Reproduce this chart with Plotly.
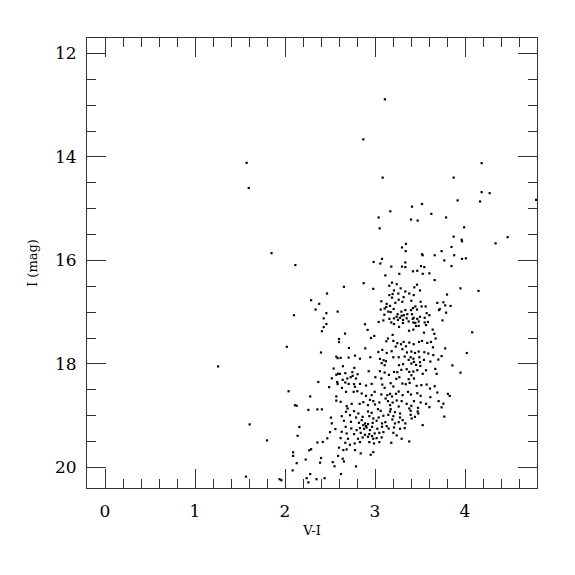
import plotly.graph_objects as go

# V-I colour and I magnitude of stars
vi_sparse = [1.574, 1.597, 1.85, 1.256, 1.607, 1.80, 1.567, 1.94, 1.96,
             3.11, 2.87, 4.185, 3.085, 3.874, 4.185, 4.274, 4.79, 3.918, 4.167, 3.522, 3.411,
             3.17, 3.626, 3.04, 3.79, 3.40, 3.474, 3.052, 3.99, 3.874, 3.963, 4.474,
             3.967, 4.34, 3.85, 3.74, 3.88, 3.967, 4.01, 3.77, 3.85, 3.95, 4.15, 3.80, 3.76,
             3.78, 3.84, 3.72, 3.79, 3.75, 4.08, 3.78, 4.02, 3.74, 3.86, 3.95, 3.81, 3.83,
             3.76, 3.74, 3.77]
i_sparse = [14.113, 14.60, 15.86, 18.05, 19.17, 19.48, 20.18, 20.23, 20.25,
            12.885, 13.66, 14.12, 14.40, 14.40, 14.68, 14.70, 14.83, 14.84, 14.86, 14.91, 14.96,
            15.05, 15.10, 15.17, 15.17, 15.21, 15.23, 15.38, 15.36, 15.54, 15.60, 15.55,
            15.63, 15.67, 15.74, 15.82, 15.90, 15.97, 15.96, 16.00, 16.11, 16.54, 16.59, 16.66, 16.81,
            16.87, 16.88, 16.94, 17.01, 17.16, 17.39, 17.70, 17.79, 17.85, 18.03, 18.17, 18.58, 18.62,
            18.77, 18.84, 19.02]

vi_blue = [2.115, 2.467, 2.29, 2.38, 2.585, 2.34, 2.46, 2.10, 2.43, 2.46,
           2.43, 2.41, 2.60, 2.60, 2.02, 2.40, 2.57, 2.585, 2.54, 2.59, 2.57, 2.52, 2.58, 2.585,
           2.37, 2.49, 2.04, 2.28, 2.57, 2.57, 2.11, 2.13, 2.36, 2.41, 2.26,
           2.51, 2.52, 2.16, 2.56, 2.50, 2.14, 2.47, 2.42, 2.36, 2.60, 2.29, 2.27, 2.09, 2.09,
           2.59, 2.40, 2.23, 2.53, 2.39, 2.13, 2.55, 2.085, 2.28, 2.24, 2.35, 2.44, 2.26]
i_blue = [16.09, 16.64, 16.77, 16.84, 16.99, 16.95, 17.02, 17.06, 17.12, 17.23,
          17.29, 17.37, 17.52, 17.58, 17.67, 17.78, 17.86, 17.89, 18.09, 18.19, 18.21, 18.28, 18.35, 18.39,
          18.35, 18.45, 18.53, 18.63, 18.63, 18.71, 18.80, 18.81, 18.88, 18.88, 18.89,
          19.04, 19.15, 19.22, 19.26, 19.32, 19.39, 19.44, 19.51, 19.52, 19.62, 19.65, 19.67, 19.71, 19.78,
          19.78, 19.82, 19.85, 19.90, 19.91, 19.92, 19.98, 20.06, 20.13, 20.21, 20.23, 20.21, 20.29]

vi_upper = [3.344, 3.300, 3.341, 3.522, 3.530, 3.663, 3.078, 2.985, 3.059, 3.337, 3.181, 3.300, 3.337,
            3.511, 3.548, 3.422, 3.470, 3.604, 3.530, 3.270, 3.115, 3.663, 2.874, 2.655, 2.981, 3.189,
            3.241, 3.159, 3.467, 3.437, 3.211, 3.285, 3.337, 3.381, 3.500, 3.159, 3.196, 3.259, 3.430,
            3.318, 3.189, 3.070, 3.130, 3.263, 3.304, 3.226, 3.404, 3.507, 3.518, 3.692, 3.563, 3.448,
            3.126, 3.167, 3.207, 3.107, 3.063, 3.422, 3.467, 3.337, 3.400, 3.148, 3.174, 3.293, 3.411,
            3.574, 3.252, 3.296, 3.322, 3.359, 3.711, 3.104, 3.241, 3.278, 3.211, 3.352, 3.430, 3.500,
            3.419, 3.470, 3.552, 3.604, 3.255, 3.311, 3.159, 3.041, 3.093, 3.374, 3.426, 3.485, 3.552,
            3.589, 2.889, 3.181, 3.311, 3.448, 3.567, 3.211]
i_upper = [15.68, 15.75, 15.82, 15.88, 15.90, 15.90, 15.97, 16.03, 16.06, 16.04, 16.12, 16.12, 16.13,
           16.11, 16.13, 16.21, 16.20, 16.25, 16.26, 16.26, 16.29, 16.38, 16.44, 16.51, 16.55, 16.43,
           16.46, 16.49, 16.47, 16.52, 16.58, 16.54, 16.60, 16.64, 16.58, 16.67, 16.65, 16.64, 16.67,
           16.71, 16.72, 16.79, 16.84, 16.76, 16.80, 16.82, 16.78, 16.80, 16.89, 16.82, 16.89, 16.89,
           16.90, 16.88, 16.94, 16.93, 16.95, 16.92, 16.95, 16.96, 16.96, 16.99, 17.00, 16.99, 17.04,
           17.02, 17.04, 17.07, 17.06, 17.04, 16.96, 17.05, 17.09, 17.11, 17.12, 17.12, 17.11, 17.09,
           17.13, 17.13, 17.11, 17.06, 17.15, 17.15, 17.13, 17.19, 17.16, 17.18, 17.20, 17.18, 17.20,
           17.19, 17.235, 17.20, 17.21, 17.21, 17.25, 17.23]

vi_mid = [2.918, 2.667, 2.992, 2.955, 3.196, 3.267, 3.378, 3.426, 3.456, 3.485, 3.544, 3.641, 3.659,
          3.674, 3.144, 3.126, 3.204, 3.248, 3.289, 3.318, 3.230, 3.304, 3.344, 3.381, 3.430, 3.489,
          3.522, 3.581, 3.622, 3.644, 2.711, 2.892, 3.081, 3.037, 3.130, 3.185, 3.355, 3.404, 3.444,
          3.485, 3.548, 3.592, 3.648, 2.778, 2.618, 2.707, 2.833, 2.948, 3.055, 3.096, 3.122, 3.204,
          3.263, 3.330, 3.396, 3.426, 3.493, 3.374, 3.433, 3.500, 3.544, 3.615, 3.704, 3.074, 3.107,
          3.267, 3.311, 3.404, 3.456, 3.504, 2.644, 2.770, 2.748, 2.670, 2.752, 2.611, 2.692, 2.730,
          2.789, 2.807, 2.930, 3.055, 3.107, 3.155, 3.211, 3.248, 3.293, 3.352, 3.381, 3.426, 3.470,
          3.567, 3.670, 3.685, 3.404, 3.530, 3.433, 3.374, 3.237, 3.270, 3.004, 3.070, 2.641, 2.670,
          2.707, 2.767, 2.833, 2.778, 2.900, 2.963, 3.081, 3.107, 3.174, 3.204, 3.304, 3.341, 3.385,
          3.463, 3.515, 3.574, 3.611, 3.663, 2.633, 2.678, 2.763, 2.804, 2.852, 2.900, 2.963, 2.996,
          3.070, 3.137, 3.167, 3.189, 3.233, 3.263, 3.307, 3.367, 3.400, 3.470, 3.507, 3.615, 3.693,
          3.707, 2.618, 2.685, 2.741, 2.830, 2.870, 2.944, 2.981, 2.922, 3.000, 3.048, 3.118, 3.144,
          3.196, 3.241, 3.296, 3.167, 3.263, 3.352, 3.404, 3.433, 3.507, 3.567, 3.604, 2.696, 3.033,
          3.174, 3.381, 3.478]
i_mid = [17.344, 17.415, 17.46, 17.50, 17.44, 17.286, 17.36, 17.338, 17.27, 17.267, 17.396, 17.338, 17.42,
         17.51, 17.51, 17.563, 17.556, 17.60, 17.62, 17.576, 17.666, 17.717, 17.66, 17.589, 17.62, 17.576,
         17.556, 17.595, 17.576, 17.679, 17.692, 17.70, 17.73, 17.77, 17.79, 17.756, 17.78, 17.762, 17.79,
         17.762, 17.775, 17.80, 17.83, 17.84, 17.885, 17.878, 17.90, 17.872, 17.904, 17.93, 17.949, 17.872,
         17.872, 17.859, 17.872, 17.90, 17.872, 17.923, 17.962, 17.968, 17.923, 17.955, 17.917, 17.987, 18.026,
         18.026, 18.007, 17.994, 18.02, 18.039, 18.046, 18.078, 18.161, 18.18, 18.232, 18.193, 18.283, 18.258,
         18.283, 18.20, 18.142, 18.142, 18.168, 18.213, 18.155, 18.161, 18.116, 18.103, 18.155, 18.148, 18.123,
         18.123, 18.097, 18.193, 18.22, 18.193, 18.283, 18.296, 18.29, 18.258, 18.258, 18.283, 18.31, 18.36,
         18.387, 18.393, 18.387, 18.444, 18.419, 18.387, 18.40, 18.464, 18.374, 18.438, 18.38, 18.393, 18.367,
         18.425, 18.412, 18.40, 18.477, 18.432, 18.464, 18.541, 18.541, 18.528, 18.573, 18.618, 18.605, 18.541,
         18.592, 18.605, 18.58, 18.631, 18.58, 18.535, 18.605, 18.541, 18.592, 18.567, 18.618, 18.644, 18.554,
         18.721, 18.734, 18.818, 18.773, 18.773, 18.74, 18.695, 18.721, 18.798, 18.786, 18.747, 18.67, 18.721,
         18.747, 18.708, 18.721, 18.798, 18.824, 18.773, 18.811, 18.721, 18.747, 18.773, 18.837, 18.863, 18.876,
         18.876, 18.863, 18.85]

vi_lower = [2.678, 2.767, 2.815, 2.922, 2.963, 3.063, 3.167, 3.222, 3.278, 3.396, 3.474, 2.630, 2.722,
            2.789, 2.863, 2.937, 2.981, 3.041, 3.093, 3.148, 3.204, 3.278, 3.396, 3.444, 3.481, 2.655,
            2.733, 2.822, 2.852, 2.870, 2.889, 2.900, 2.922, 2.974, 3.018, 3.078, 3.115, 3.193, 3.222,
            3.263, 3.307, 3.337, 3.407, 3.530, 2.674, 2.737, 2.796, 2.833, 2.878, 2.907, 2.944, 2.967,
            3.026, 3.078, 3.130, 3.152, 3.211, 3.278, 3.330, 2.630, 2.685, 2.767, 2.841, 2.889, 2.937,
            2.967, 2.996, 3.048, 3.093, 3.204, 3.241, 3.296, 2.618, 2.700, 2.811, 2.863, 2.922, 2.981,
            3.018, 3.074, 2.937, 2.989, 3.048, 2.670, 2.722, 2.774, 2.833, 3.181, 3.381, 2.648, 2.685,
            2.778, 2.841, 2.952, 2.981, 2.641, 2.655, 2.789, 2.622]
i_lower = [18.927, 18.914, 18.959, 18.921, 18.946, 18.908, 18.921, 18.934, 18.959, 18.908, 18.921, 19.011, 18.992,
           19.037, 19.024, 19.011, 19.056, 19.037, 19.004, 18.985, 19.011, 19.037, 18.985, 19.024, 18.959, 19.10,
           19.12, 19.14, 19.088, 19.185, 19.152, 19.204, 19.165, 19.14, 19.10, 19.152, 19.127, 19.075, 19.152,
           19.127, 19.088, 19.152, 19.056, 19.185, 19.217, 19.249, 19.281, 19.242, 19.255, 19.23, 19.281, 19.217,
           19.255, 19.217, 19.204, 19.249, 19.23, 19.255, 19.242, 19.313, 19.345, 19.358, 19.333, 19.371, 19.358,
           19.397, 19.345, 19.333, 19.32, 19.333, 19.384, 19.448, 19.436, 19.448, 19.448, 19.423, 19.41, 19.448,
           19.436, 19.423, 19.513, 19.539, 19.513, 19.526, 19.564, 19.539, 19.513, 19.526, 19.50, 19.667, 19.654,
           19.667, 19.731, 19.757, 19.706, 19.834, 19.886, 19.982, 20.13]

vi = vi_sparse + vi_blue + vi_upper + vi_mid + vi_lower
imag = i_sparse + i_blue + i_upper + i_mid + i_lower

x_ticks = [0, 1, 2, 3, 4]
y_ticks = [12, 14, 16, 18, 20]

FONT = "DejaVu Serif"
AX = "#333333"

fig = go.Figure(go.Scatter(
    x=vi, y=imag, mode="markers",
    marker=dict(symbol="square", size=2.2, color="black", line=dict(width=0)),
    hoverinfo="skip", showlegend=False))

common = dict(showline=True, linecolor=AX, linewidth=1, mirror="allticks",
              ticks="inside", ticklen=19, tickwidth=1, tickcolor=AX,
              showgrid=False, zeroline=False, automargin=False,
              tickfont=dict(family=FONT, size=17, color="black"))

fig.update_xaxes(range=[-0.2, 4.8], tickvals=x_ticks, ticktext=[str(v) for v in x_ticks],
                 minor=dict(dtick=0.2, tick0=0, ticks="inside", ticklen=9, tickcolor=AX, tickwidth=1),
                 title=dict(text="V-I", font=dict(family=FONT, size=13, color="black"), standoff=5),
                 ticklabelstandoff=8, **common)
fig.update_yaxes(range=[20.4, 11.7], tickvals=y_ticks, ticktext=[str(v) for v in y_ticks],
                 minor=dict(dtick=0.5, tick0=0, ticks="inside", ticklen=9, tickcolor=AX, tickwidth=1),
                 title=dict(text="I (mag)", font=dict(family=FONT, size=13, color="black"), standoff=14),
                 ticklabelstandoff=6, **common)

fig.update_layout(width=575, height=575, margin=dict(l=79, r=46, t=30, b=95),
                  paper_bgcolor="white", plot_bgcolor="white")

fig.write_html("out.html")
